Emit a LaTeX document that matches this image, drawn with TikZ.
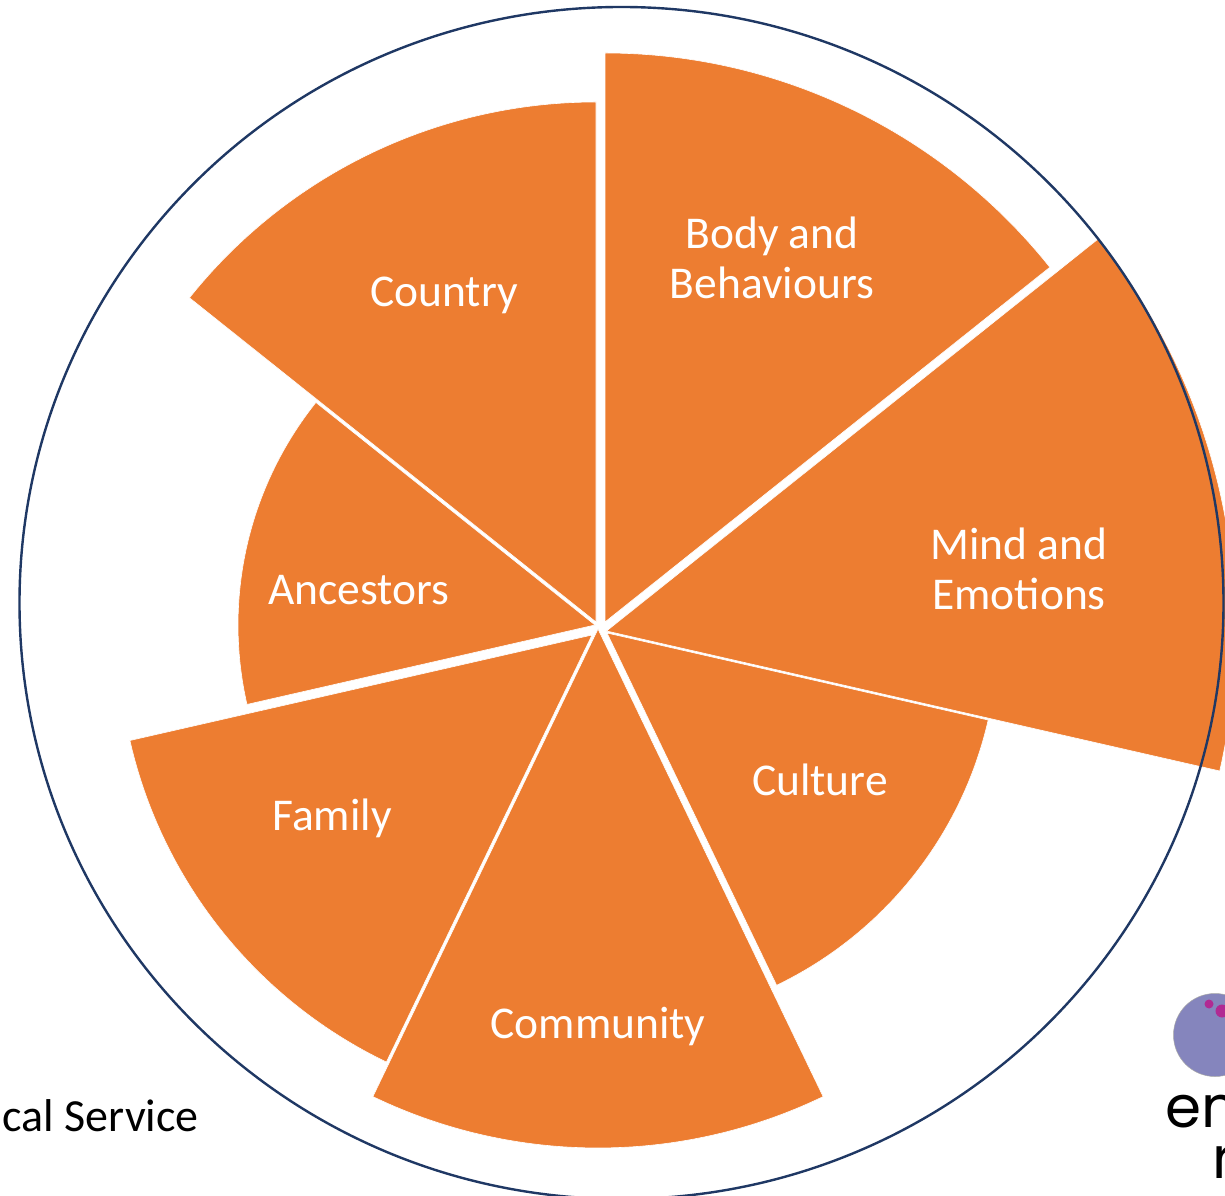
\documentclass[tikz,border=0pt]{standalone}
\usepackage{fontspec}
\usetikzlibrary{shapes.geometric}
\setmainfont{Carlito}
\newfontfamily\logofont{Poppins}
\definecolor{wedgeorange}{HTML}{ED7D31}
\definecolor{ringnavy}{HTML}{1F3864}
\definecolor{logoblue}{HTML}{8585BD}
\definecolor{logodot}{HTML}{B12A93}
\tikzset{
  segment/.style={fill=wedgeorange,draw=white,line width=0.6pt,line join=miter},
  seglabel/.style={text=white,font=\fontsize{45.5}{50}\selectfont,align=center,inner sep=0pt},
  blacklabel/.style={text=black,font=\fontsize{46}{51}\selectfont,inner sep=0pt},
  logotext/.style={text=black,font=\logofont\fontsize{58}{60}\selectfont,inner sep=0pt},
}
% #1 apex x, #2 apex y (from the top), #3 radius, #4 start angle, #5 end angle
\newcommand{\segpath}[5]{\path[segment] (#1pt,{(1195-#2)*1pt}) -- ++(#4:#3pt) arc[start angle=#4,end angle=#5,radius=#3pt] -- cycle;}
\newcommand{\py}[1]{{(1195-#1)*1pt}}
\begin{document}
\begin{tikzpicture}
\useasboundingbox (0pt,0pt) rectangle (1225pt,1195pt);
\clip (0pt,0pt) rectangle (1225pt,1195pt);
\fill[white] (0pt,0pt) rectangle (1225pt,1195pt);
% segments
\segpath{605}{622}{569}{90}{38.57}
\segpath{606.5}{631}{629}{38.57}{-12.86}
\segpath{607}{633}{391}{-12.86}{-64.29}
\segpath{598}{629}{519}{-64.29}{-115.71}
\segpath{592}{635}{474}{-115.71}{-167.14}
\segpath{595}{625}{357}{-167.14}{-218.57}
\segpath{596}{622}{520}{141.43}{90}
% ring
\node[draw=ringnavy,line width=2.4pt,ellipse,minimum width=1204pt,minimum height=1192pt,inner sep=0pt] (ring) at (621.5pt,\py{603}) {};
% labels
\node[seglabel] (body) at (772pt,\py{258}) {Body and\\Behaviours};
\node[seglabel] (mind) at (1019pt,\py{569}) {Mind and\\Emotions};
\node[seglabel] (culture) at (820pt,\py{780}) {Culture};
\node[seglabel] (community) at (598pt,\py{1027}) {Community};
\node[seglabel] (family) at (332pt,\py{818}) {Family};
\node[seglabel] (ancestors) at (359pt,\py{590}) {Ancestors};
\node[seglabel] (country) at (444pt,\py{295}) {Country};
\node[blacklabel,anchor=base east] (service) at (199pt,\py{1131}) {cal Service};
% logo
\node[circle,fill=logoblue,draw=gray!70,line width=0.5pt,minimum size=83pt,inner sep=0pt] (logodisc) at (1215pt,\py{1035}) {};
\node[circle,fill=logodot,minimum size=9pt,inner sep=0pt] (dota) at (1209pt,\py{1004}) {};
\node[circle,fill=logodot,minimum size=13pt,inner sep=0pt] (dotb) at (1222pt,\py{1011}) {};
\node[logotext,anchor=base west] (logoa) at (1165pt,\py{1127}) {em};
\node[logotext,anchor=base west] (logob) at (1212pt,\py{1178}) {r};
\end{tikzpicture}
\end{document}
